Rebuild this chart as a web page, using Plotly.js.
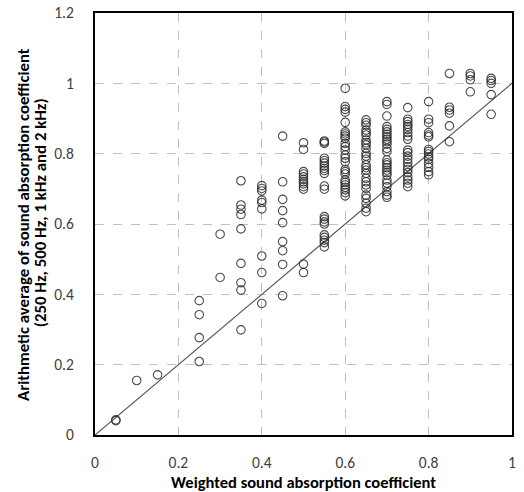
<!DOCTYPE html>
<html>
<head>
<meta charset="utf-8">
<script src="https://cdn.plot.ly/plotly-3.0.1.min.js"></script>
<style>html,body{margin:0;padding:0;background:#fff;}#chart{width:524px;height:492px;}</style>
</head>
<body>
<div id="chart"></div>
<script>
// Weighted sound absorption coefficient (x) for each column of points
const colX = [0.05, 0.10, 0.15, 0.25, 0.30, 0.35, 0.40, 0.45, 0.50, 0.55, 0.60, 0.65, 0.70, 0.75, 0.80, 0.85, 0.90, 0.95];
// Arithmetic average values (y) for each column
const colY = [
  [0.041, 0.043],
  [0.155],
  [0.171],
  [0.382, 0.342, 0.277, 0.209],
  [0.571, 0.448],
  [0.723, 0.654, 0.642, 0.627, 0.586, 0.488, 0.433, 0.412, 0.299],
  [0.709, 0.701, 0.694, 0.668, 0.661, 0.643, 0.509, 0.462, 0.374],
  [0.850, 0.720, 0.670, 0.638, 0.604, 0.550, 0.524, 0.485, 0.396],
  [0.831, 0.812, 0.749, 0.742, 0.734, 0.727, 0.720, 0.714, 0.706, 0.699, 0.486, 0.462],
  [0.836, 0.833, 0.829, 0.787, 0.780, 0.773, 0.765, 0.758, 0.752, 0.744, 0.708, 0.699, 0.621, 0.614, 0.606, 0.600, 0.569, 0.562, 0.554, 0.547, 0.535],
  [0.986, 0.934, 0.926, 0.918, 0.889, 0.862, 0.856, 0.850, 0.844, 0.829, 0.820, 0.810, 0.796, 0.787, 0.777, 0.755, 0.749, 0.742, 0.725, 0.718, 0.711, 0.704, 0.697, 0.689, 0.680],
  [0.896, 0.888, 0.881, 0.867, 0.860, 0.853, 0.839, 0.831, 0.825, 0.815, 0.801, 0.793, 0.784, 0.768, 0.760, 0.753, 0.744, 0.730, 0.720, 0.711, 0.701, 0.682, 0.673, 0.659, 0.645, 0.635],
  [0.948, 0.940, 0.907, 0.877, 0.869, 0.862, 0.855, 0.848, 0.841, 0.834, 0.827, 0.815, 0.806, 0.782, 0.774, 0.768, 0.760, 0.753, 0.746, 0.739, 0.725, 0.716, 0.706, 0.692, 0.682, 0.676],
  [0.931, 0.898, 0.891, 0.883, 0.877, 0.869, 0.860, 0.850, 0.841, 0.810, 0.803, 0.793, 0.784, 0.774, 0.763, 0.755, 0.746, 0.734, 0.725, 0.716, 0.706],
  [0.948, 0.898, 0.888, 0.860, 0.853, 0.848, 0.812, 0.806, 0.799, 0.791, 0.784, 0.772, 0.761, 0.749, 0.740],
  [1.028, 0.932, 0.924, 0.915, 0.879, 0.834],
  [1.028, 1.021, 1.010, 0.976],
  [1.014, 1.008, 1.000, 0.968, 0.912]
];
// Reference line y = x
const lineX = [0, 1];
const lineY = [0, 1];

const xTitle = 'Weighted sound absorption coefficient';
const yTitle1 = 'Arithmetic average of sound absorption coefficient';
const yTitle2 = '(250 Hz, 500 Hz, 1 kHz and 2 kHz)';

const xs = [], ys = [];
colX.forEach((x, i) => colY[i].forEach(y => { xs.push(x); ys.push(y); }));

const font = "Carlito, Calibri, Lato, 'Open Sans', sans-serif";

const traces = [
  {
    x: lineX, y: lineY, type: 'scatter', mode: 'lines',
    line: {color: '#595959', width: 1.2}, hoverinfo: 'skip', showlegend: false
  },
  {
    x: xs, y: ys, type: 'scatter', mode: 'markers',
    marker: {symbol: 'circle-open', size: 8.5, color: 'rgba(45,45,45,0.85)', line: {width: 1.1}},
    showlegend: false
  }
];

const layout = {
  width: 524, height: 492,
  margin: {l: 95, r: 12, t: 13, b: 57},
  paper_bgcolor: '#fff', plot_bgcolor: '#fff',
  font: {family: font, size: 15.5, color: '#404040'},
  xaxis: {
    range: [0, 1], dtick: 0.2, tick0: 0,
    showgrid: true, gridcolor: '#c0c0c0', griddash: 'dash', gridwidth: 1,
    zeroline: false, showline: true, mirror: true, linecolor: '#000', linewidth: 2,
    ticks: 'outside', ticklen: 12, tickcolor: 'rgba(0,0,0,0)',
    tickfont: {family: font, size: 15.5, color: '#404040'}
  },
  yaxis: {
    range: [0, 1.2], dtick: 0.2, tick0: 0,
    showgrid: true, gridcolor: '#c0c0c0', griddash: 'dash', gridwidth: 1,
    zeroline: false, showline: true, mirror: true, linecolor: '#000', linewidth: 2,
    ticks: 'outside', ticklen: 16, tickcolor: 'rgba(0,0,0,0)',
    tickfont: {family: font, size: 15.5, color: '#404040'}
  },
  annotations: [
    {text: '<b>' + xTitle + '</b>', xref: 'paper', yref: 'paper', x: 0.5, y: -0.1114,
     xanchor: 'center', yanchor: 'middle', showarrow: false,
     font: {family: font, size: 16.5, color: '#000'}},
    {text: '<b>' + yTitle1 + '</b>', xref: 'paper', yref: 'paper', x: -0.1727, y: 0.50,
     xanchor: 'center', yanchor: 'middle', textangle: -90, showarrow: false,
     font: {family: font, size: 16.8, color: '#000'}},
    {text: '<b>' + yTitle2 + '</b>', xref: 'paper', yref: 'paper', x: -0.1319, y: 0.528,
     xanchor: 'center', yanchor: 'middle', textangle: -90, showarrow: false,
     font: {family: font, size: 16.8, color: '#000'}}
  ]
};

Plotly.newPlot('chart', traces, layout, {staticPlot: true, displayModeBar: false});
</script>
</body>
</html>
